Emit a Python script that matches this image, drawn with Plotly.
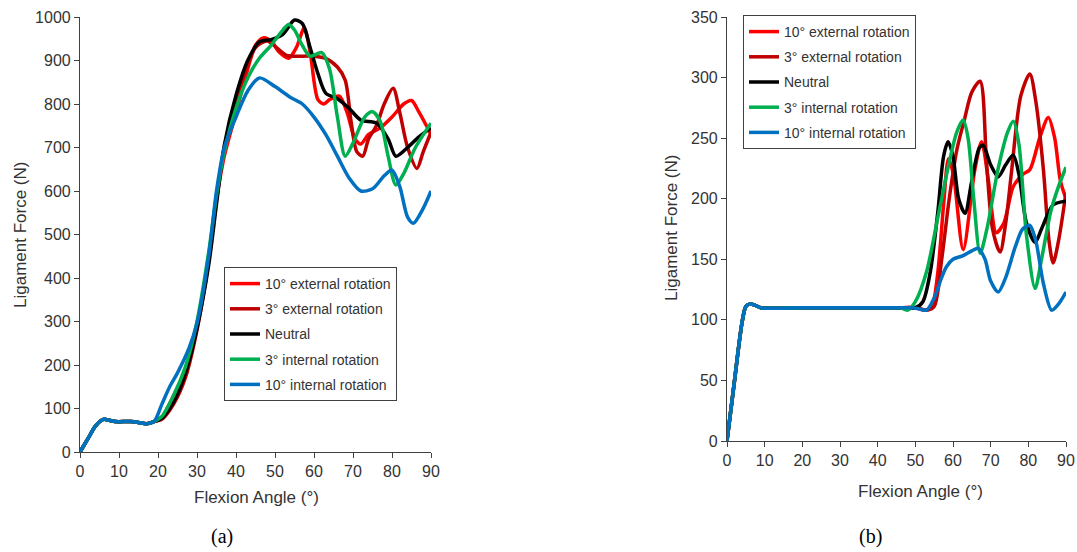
import plotly.graph_objects as go

# ---------------- data: panel (a) ----------------
a_common_x = [0, 2, 4, 6, 7.5, 9, 13, 15, 17, 19]
a_common_y = [0, 30, 60, 75, 73, 70, 70, 68, 65, 70]

a_ext10_x = [21, 24, 27, 30, 33, 35, 37, 40, 43, 45, 47, 49, 51, 53.5, 55.5, 57.5, 59, 61, 62.5, 64, 66.5, 68.5, 70.5, 72, 74, 77, 80, 83, 85, 87, 90]
a_ext10_y = [80, 130, 190, 290, 450, 580, 680, 780, 880, 935, 952, 945, 920, 905, 930, 975, 920, 810, 800, 810, 818, 780, 720, 708, 730, 745, 770, 800, 808, 780, 730]

a_ext3_x = [21, 24, 27, 30, 33, 35, 37, 40, 43, 45, 48, 51, 53, 57, 60, 63, 66, 68, 69.5, 71, 72.5, 74, 76, 78, 80.3, 82, 84, 86.4, 88, 90]
a_ext3_y = [75, 110, 170, 280, 440, 580, 700, 810, 890, 930, 945, 925, 912, 910, 910, 905, 885, 855, 760, 690, 680, 720, 750, 800, 836, 780, 700, 652, 690, 735]

a_neu_x = [21, 24, 27, 30, 33, 35, 37, 40, 43, 46, 49, 52, 55, 57, 59, 61, 63, 66, 69, 72, 76, 79, 81, 84, 87, 90]
a_neu_y = [78, 115, 180, 285, 430, 570, 705, 820, 900, 943, 948, 960, 993, 985, 930, 870, 825, 812, 790, 763, 756, 720, 680, 700, 725, 745]

a_int3_x = [21, 24, 27, 30, 33, 35, 37, 40, 43, 46, 49, 52, 53.5, 55, 57, 59, 62, 64, 66, 68, 70, 73, 75, 77, 79, 81, 83, 86, 90]
a_int3_y = [82, 130, 195, 300, 460, 590, 690, 790, 860, 905, 935, 970, 983, 970, 935, 910, 918, 880, 770, 680, 710, 770, 782, 760, 680, 614, 640, 700, 756]

a_int10_x = [21, 23, 25, 28, 30, 33, 35, 37, 40, 43, 46, 50, 54, 57, 60, 63, 66, 69, 72, 75, 78, 80, 82, 84, 85.5, 88, 90]
a_int10_y = [110, 150, 182, 240, 296, 450, 600, 700, 770, 830, 860, 840, 815, 800, 770, 730, 680, 630, 600, 605, 635, 648, 610, 540, 526, 560, 600]

# ---------------- data: panel (b) ----------------
b_common_x = [0, 2, 4, 5, 6, 7.5, 9, 20, 30, 40, 45]
b_common_y = [0, 50, 98, 111, 113, 112, 110, 110, 110, 110, 110]

b_ext10_x = [50, 53, 54.5, 56, 57.5, 58.8, 60.1, 62.7, 65.8, 67.6, 69.4, 71.5, 73.5, 76, 78.5, 80.4, 83, 85.3, 87, 88.5, 90]
b_ext10_y = [110, 108, 112, 140, 195, 233, 220, 158, 224, 247, 215, 172, 180, 210, 220, 224, 250, 267, 250, 215, 200]

b_ext3_x = [50, 53, 55, 57, 59, 61, 63, 65, 67.2, 68.9, 70.5, 72.5, 74, 75.6, 78, 80.4, 82, 84, 85.5, 86.6, 88, 90]
b_ext3_y = [110, 108, 111, 150, 200, 240, 265, 288, 297, 230, 175, 156, 180, 224, 285, 303, 280, 224, 165, 147, 165, 205]

b_neu_x = [50, 52, 54, 56, 57.5, 58.7, 60, 61.5, 63.2, 65, 67, 68, 70, 72, 74, 76, 77.5, 79.5, 81.8, 83.5, 86.6, 90]
b_neu_y = [110, 115, 140, 190, 235, 247, 235, 200, 188, 215, 242, 244, 228, 218, 228, 236, 220, 180, 164, 175, 195, 198]

b_int3_x = [46, 48, 50, 53, 56, 59, 61, 62.7, 64, 65.5, 67.2, 69, 72, 74.5, 76, 77.5, 79.5, 81.8, 83.5, 86, 88, 90]
b_int3_y = [110, 108, 115, 140, 185, 230, 255, 265, 250, 200, 155, 175, 225, 255, 264, 245, 170, 126, 150, 190, 210, 226]

b_int10_x = [49, 51, 53, 55, 57, 58.3, 60, 62.7, 65, 66.7, 68.5, 70, 72, 74, 76.5, 78.5, 80.4, 82, 84, 86.2, 88, 90]
b_int10_y = [110, 109, 108, 118, 135, 144, 150, 153, 157, 159, 150, 132, 123, 135, 160, 175, 178, 165, 130, 108, 113, 123]

names = ["10° external rotation", "3° external rotation", "Neutral",
         "3° internal rotation", "10° internal rotation"]
colors = ["#FF0000", "#C00000", "#000000", "#00B050", "#0070C0"]

a_series = [(a_ext10_x, a_ext10_y), (a_ext3_x, a_ext3_y), (a_neu_x, a_neu_y),
            (a_int3_x, a_int3_y), (a_int10_x, a_int10_y)]
b_series = [(b_ext10_x, b_ext10_y), (b_ext3_x, b_ext3_y), (b_neu_x, b_neu_y),
            (b_int3_x, b_int3_y), (b_int10_x, b_int10_y)]

fig = go.Figure()
for i, (xs, ys) in enumerate(a_series):
    fig.add_trace(go.Scatter(
        x=a_common_x + xs, y=a_common_y + ys, mode="lines", name=names[i],
        line=dict(color=colors[i], width=3.5, shape="spline", smoothing=0.8),
        xaxis="x", yaxis="y", legend="legend", legendgroup="a%d" % i))
for i, (xs, ys) in enumerate(b_series):
    fig.add_trace(go.Scatter(
        x=b_common_x + xs, y=b_common_y + ys, mode="lines", name=names[i],
        line=dict(color=colors[i], width=3.5, shape="spline", smoothing=0.8),
        xaxis="x2", yaxis="y2", legend="legend2", legendgroup="b%d" % i))

W, H = 1077, 552
tickfont = dict(family="Liberation Sans, Arial", size=16, color="#333333")
axcommon = dict(showgrid=False, zeroline=False, showline=True, linecolor="#404040",
                linewidth=1.2, ticks="outside", ticklen=5, tickcolor="#404040",
                tickwidth=1.2, tickfont=tickfont, automargin=False)

legend_common = dict(bgcolor="white", bordercolor="#404040", borderwidth=1,
                     font=dict(family="Liberation Sans, Arial", size=14, color="#333333"),
                     tracegroupgap=4, traceorder="grouped",
                     entrywidth=150, entrywidthmode="pixels",
                     xanchor="left", yanchor="top")

fig.update_layout(
    width=W, height=H, margin=dict(l=0, r=0, t=0, b=0),
    paper_bgcolor="white", plot_bgcolor="white",
    xaxis=dict(domain=[80 / W, 431 / W], range=[0, 90], dtick=10, anchor="y", **axcommon),
    yaxis=dict(domain=[(H - 452) / H, (H - 17) / H], range=[0, 1000], dtick=100, anchor="x", **axcommon),
    xaxis2=dict(domain=[727 / W, 1066 / W], range=[0, 90], dtick=10, anchor="y2", **axcommon),
    yaxis2=dict(domain=[(H - 441) / H, (H - 17) / H], range=[0, 350], dtick=50, anchor="x2", **axcommon),
    legend=dict(x=224 / W, y=(H - 267) / H, **legend_common),
    legend2=dict(x=743 / W, y=(H - 15) / H, **legend_common),
)

titlefont = dict(family="Liberation Sans, Arial", size=17, color="#333333")
ann = [
    dict(text="Ligament Force (N)", x=20 / W, y=(H - 235) / H, textangle=-90, font=titlefont),
    dict(text="Flexion Angle (°)", x=256 / W, y=(H - 497) / H, font=titlefont),
    dict(text="Ligament Force (N)", x=672 / W, y=(H - 228) / H, textangle=-90, font=titlefont),
    dict(text="Flexion Angle (°)", x=920 / W, y=(H - 491) / H, font=titlefont),
    dict(text="(a)", x=222 / W, y=(H - 536) / H,
         font=dict(family="Liberation Serif, Times New Roman", size=20, color="black")),
    dict(text="(b)", x=870 / W, y=(H - 536) / H,
         font=dict(family="Liberation Serif, Times New Roman", size=20, color="black")),
]
for a in ann:
    a.update(xref="paper", yref="paper", showarrow=False, xanchor="center", yanchor="middle")
fig.update_layout(annotations=ann)

fig.write_html("out.html")
